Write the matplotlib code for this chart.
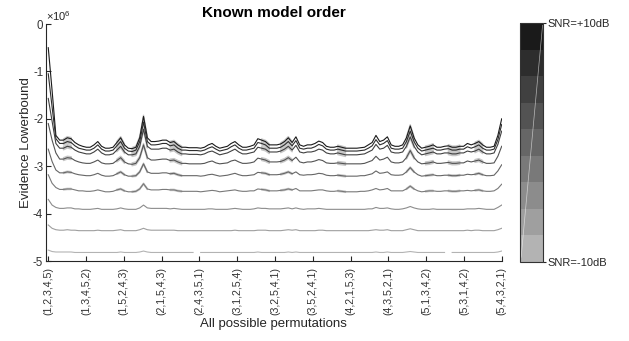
import numpy as np
import matplotlib
matplotlib.use("Agg")
import matplotlib.pyplot as plt
from matplotlib.colors import ListedColormap, BoundaryNorm
from matplotlib.cm import ScalarMappable

plt.rcParams['font.family'] = ['Liberation Sans', 'DejaVu Sans']
plt.rcParams['mathtext.fontset'] = 'custom'
plt.rcParams['mathtext.rm'] = 'Liberation Sans'
plt.rcParams['axes.unicode_minus'] = False

# tick labels: permutation shown at each of the 13 ticks
tick_labels = ['(1,2,3,4,5)', '(1,3,4,5,2)', '(1,5,2,4,3)', '(2,1,5,4,3)', '(2,4,3,5,1)',
               '(3,1,2,5,4)', '(3,2,5,4,1)', '(3,5,2,4,1)', '(4,2,1,5,3)', '(4,3,5,2,1)',
               '(5,1,3,4,2)', '(5,3,1,4,2)', '(5,4,3,2,1)']
n_perms = 120
snr_db = [10, 7.5, 5, 2.5, 0, -2.5, -5, -7.5, -10]

# evidence lower bound (x1e6) for each of the 120 permutations
elbo_p10 = [-0.50, -1.40, -2.35,
            -2.45, -2.45, -2.40, -2.42, -2.50, -2.55, -2.58, -2.60, -2.60, -2.55,
            -2.48, -2.58, -2.62, -2.62, -2.60, -2.50, -2.40, -2.55, -2.62, -2.63,
            -2.60, -2.40, -1.95, -2.40, -2.48, -2.48, -2.47, -2.45, -2.45, -2.50,
            -2.48, -2.55, -2.60, -2.60, -2.61, -2.61, -2.61, -2.62, -2.60, -2.55,
            -2.52, -2.58, -2.62, -2.60, -2.58, -2.52, -2.48, -2.55, -2.60, -2.60,
            -2.58, -2.55, -2.42, -2.45, -2.48, -2.55, -2.55, -2.55, -2.53, -2.48,
            -2.40, -2.50, -2.38, -2.55, -2.58, -2.55, -2.55, -2.52, -2.47, -2.50,
            -2.58, -2.60, -2.60, -2.58, -2.60, -2.62, -2.62, -2.62, -2.62, -2.61,
            -2.60, -2.55, -2.50, -2.35, -2.48, -2.45, -2.38, -2.55, -2.58, -2.58,
            -2.55, -2.40, -2.15, -2.40, -2.55, -2.62, -2.60, -2.58, -2.55, -2.60,
            -2.60, -2.58, -2.57, -2.60, -2.60, -2.58, -2.58, -2.52, -2.55, -2.52,
            -2.48, -2.55, -2.60, -2.60, -2.58, -2.35, -2.00]
elbo_p7_5 = [-1.05, -1.75, -2.42,
             -2.52, -2.52, -2.48, -2.50, -2.57, -2.62, -2.64, -2.66, -2.66, -2.62,
             -2.55, -2.64, -2.68, -2.68, -2.66, -2.57, -2.48, -2.62, -2.68, -2.69,
             -2.66, -2.48, -2.07, -2.48, -2.55, -2.55, -2.54, -2.52, -2.52, -2.57,
             -2.55, -2.62, -2.66, -2.66, -2.67, -2.67, -2.67, -2.68, -2.66, -2.62,
             -2.59, -2.64, -2.68, -2.66, -2.64, -2.59, -2.55, -2.62, -2.66, -2.66,
             -2.64, -2.62, -2.50, -2.52, -2.55, -2.62, -2.62, -2.62, -2.60, -2.55,
             -2.48, -2.57, -2.46, -2.62, -2.64, -2.62, -2.62, -2.59, -2.54, -2.57,
             -2.64, -2.66, -2.66, -2.64, -2.66, -2.68, -2.68, -2.68, -2.68, -2.67,
             -2.66, -2.62, -2.57, -2.44, -2.55, -2.52, -2.46, -2.62, -2.64, -2.64,
             -2.62, -2.48, -2.26, -2.48, -2.62, -2.68, -2.66, -2.64, -2.62, -2.66,
             -2.66, -2.64, -2.63, -2.66, -2.66, -2.64, -2.64, -2.59, -2.62, -2.59,
             -2.55, -2.62, -2.66, -2.66, -2.64, -2.44, -2.12]
elbo_p5 = [-1.57, -2.05, -2.52,
           -2.62, -2.62, -2.58, -2.60, -2.66, -2.70, -2.72, -2.74, -2.74, -2.70,
           -2.64, -2.72, -2.76, -2.76, -2.74, -2.66, -2.58, -2.70, -2.76, -2.76,
           -2.74, -2.58, -2.22, -2.58, -2.64, -2.64, -2.64, -2.62, -2.62, -2.66,
           -2.64, -2.70, -2.74, -2.74, -2.75, -2.75, -2.75, -2.76, -2.74, -2.70,
           -2.68, -2.72, -2.76, -2.74, -2.72, -2.68, -2.64, -2.70, -2.74, -2.74,
           -2.72, -2.70, -2.60, -2.62, -2.64, -2.70, -2.70, -2.70, -2.68, -2.64,
           -2.58, -2.66, -2.56, -2.70, -2.72, -2.70, -2.70, -2.68, -2.64, -2.66,
           -2.72, -2.74, -2.74, -2.72, -2.74, -2.76, -2.76, -2.76, -2.76, -2.75,
           -2.74, -2.70, -2.66, -2.54, -2.64, -2.62, -2.56, -2.70, -2.72, -2.72,
           -2.70, -2.58, -2.38, -2.58, -2.70, -2.76, -2.74, -2.72, -2.70, -2.74,
           -2.74, -2.72, -2.72, -2.74, -2.74, -2.72, -2.72, -2.68, -2.70, -2.68,
           -2.64, -2.70, -2.74, -2.74, -2.72, -2.54, -2.26]
elbo_p2_5 = [-2.10, -2.45, -2.72,
             -2.85, -2.85, -2.82, -2.83, -2.88, -2.91, -2.93, -2.94, -2.94, -2.91,
             -2.87, -2.93, -2.95, -2.95, -2.94, -2.88, -2.82, -2.91, -2.95, -2.96,
             -2.94, -2.82, -2.55, -2.82, -2.87, -2.87, -2.86, -2.85, -2.85, -2.88,
             -2.87, -2.91, -2.94, -2.94, -2.95, -2.95, -2.95, -2.95, -2.94, -2.91,
             -2.89, -2.93, -2.95, -2.94, -2.93, -2.89, -2.87, -2.91, -2.94, -2.94,
             -2.93, -2.91, -2.83, -2.85, -2.87, -2.91, -2.91, -2.91, -2.90, -2.87,
             -2.82, -2.88, -2.81, -2.91, -2.93, -2.91, -2.91, -2.89, -2.86, -2.88,
             -2.93, -2.94, -2.94, -2.93, -2.94, -2.95, -2.95, -2.95, -2.95, -2.95,
             -2.94, -2.91, -2.88, -2.79, -2.87, -2.85, -2.81, -2.91, -2.93, -2.93,
             -2.91, -2.82, -2.67, -2.82, -2.91, -2.95, -2.94, -2.93, -2.91, -2.94,
             -2.94, -2.93, -2.92, -2.94, -2.94, -2.93, -2.93, -2.89, -2.91, -2.89,
             -2.87, -2.91, -2.94, -2.94, -2.93, -2.79, -2.58]
elbo_0 = [-2.64, -2.90, -3.08,
          -3.14, -3.14, -3.12, -3.13, -3.16, -3.18, -3.19, -3.20, -3.20, -3.18,
          -3.15, -3.19, -3.21, -3.21, -3.20, -3.16, -3.12, -3.18, -3.21, -3.21,
          -3.20, -3.12, -2.95, -3.12, -3.15, -3.15, -3.15, -3.14, -3.14, -3.16,
          -3.15, -3.18, -3.20, -3.20, -3.20, -3.20, -3.20, -3.21, -3.20, -3.18,
          -3.17, -3.19, -3.21, -3.20, -3.19, -3.17, -3.15, -3.18, -3.20, -3.20,
          -3.19, -3.18, -3.13, -3.14, -3.15, -3.18, -3.18, -3.18, -3.17, -3.15,
          -3.12, -3.16, -3.12, -3.18, -3.19, -3.18, -3.18, -3.17, -3.15, -3.16,
          -3.19, -3.20, -3.20, -3.19, -3.20, -3.21, -3.21, -3.21, -3.21, -3.20,
          -3.20, -3.18, -3.16, -3.10, -3.15, -3.14, -3.12, -3.18, -3.19, -3.19,
          -3.18, -3.12, -3.03, -3.12, -3.18, -3.21, -3.20, -3.19, -3.18, -3.20,
          -3.20, -3.19, -3.19, -3.20, -3.20, -3.19, -3.19, -3.17, -3.18, -3.17,
          -3.15, -3.18, -3.20, -3.20, -3.19, -3.10, -2.97]
elbo_m2_5 = [-3.18, -3.36, -3.45,
             -3.49, -3.49, -3.48, -3.48, -3.50, -3.52, -3.52, -3.53, -3.53, -3.52,
             -3.50, -3.52, -3.54, -3.54, -3.53, -3.50, -3.48, -3.52, -3.54, -3.54,
             -3.53, -3.48, -3.37, -3.48, -3.50, -3.50, -3.50, -3.49, -3.49, -3.50,
             -3.50, -3.52, -3.53, -3.53, -3.53, -3.53, -3.53, -3.54, -3.53, -3.52,
             -3.51, -3.52, -3.54, -3.53, -3.52, -3.51, -3.50, -3.52, -3.53, -3.53,
             -3.52, -3.52, -3.48, -3.49, -3.50, -3.52, -3.52, -3.52, -3.51, -3.50,
             -3.48, -3.50, -3.47, -3.52, -3.52, -3.52, -3.52, -3.51, -3.50, -3.50,
             -3.52, -3.53, -3.53, -3.52, -3.53, -3.54, -3.54, -3.54, -3.54, -3.53,
             -3.53, -3.52, -3.50, -3.47, -3.50, -3.49, -3.47, -3.52, -3.52, -3.52,
             -3.52, -3.48, -3.42, -3.48, -3.52, -3.54, -3.53, -3.52, -3.52, -3.53,
             -3.53, -3.52, -3.52, -3.53, -3.53, -3.52, -3.52, -3.51, -3.52, -3.51,
             -3.50, -3.52, -3.53, -3.53, -3.52, -3.47, -3.38]
elbo_m5 = [-3.70, -3.82, -3.87,
           -3.89, -3.89, -3.88, -3.88, -3.90, -3.90, -3.91, -3.91, -3.91, -3.90,
           -3.89, -3.91, -3.91, -3.91, -3.91, -3.90, -3.88, -3.90, -3.91, -3.91,
           -3.91, -3.88, -3.82, -3.88, -3.89, -3.89, -3.89, -3.89, -3.89, -3.90,
           -3.89, -3.90, -3.91, -3.91, -3.91, -3.91, -3.91, -3.91, -3.91, -3.90,
           -3.90, -3.91, -3.91, -3.91, -3.91, -3.90, -3.89, -3.90, -3.91, -3.91,
           -3.91, -3.90, -3.88, -3.89, -3.89, -3.90, -3.90, -3.90, -3.90, -3.89,
           -3.88, -3.90, -3.88, -3.90, -3.91, -3.90, -3.90, -3.90, -3.89, -3.90,
           -3.91, -3.91, -3.91, -3.91, -3.91, -3.91, -3.91, -3.91, -3.91, -3.91,
           -3.91, -3.90, -3.90, -3.87, -3.89, -3.89, -3.88, -3.90, -3.91, -3.91,
           -3.90, -3.88, -3.85, -3.88, -3.90, -3.91, -3.91, -3.91, -3.90, -3.91,
           -3.91, -3.91, -3.91, -3.91, -3.91, -3.91, -3.91, -3.90, -3.90, -3.90,
           -3.89, -3.90, -3.91, -3.91, -3.91, -3.87, -3.82]
elbo_m7_5 = [-4.24, -4.31, -4.34,
             -4.35, -4.35, -4.34, -4.35, -4.35, -4.36, -4.36, -4.36, -4.36, -4.36,
             -4.35, -4.36, -4.36, -4.36, -4.36, -4.35, -4.34, -4.36, -4.36, -4.36,
             -4.36, -4.34, -4.31, -4.34, -4.35, -4.35, -4.35, -4.35, -4.35, -4.35,
             -4.35, -4.36, -4.36, -4.36, -4.36, -4.36, -4.36, -4.36, -4.36, -4.36,
             -4.36, -4.36, -4.36, -4.36, -4.36, -4.36, -4.35, -4.36, -4.36, -4.36,
             -4.36, -4.36, -4.35, -4.35, -4.35, -4.36, -4.36, -4.36, -4.36, -4.35,
             -4.34, -4.35, -4.34, -4.36, -4.36, -4.36, -4.36, -4.36, -4.35, -4.35,
             -4.36, -4.36, -4.36, -4.36, -4.36, -4.36, -4.36, -4.36, -4.36, -4.36,
             -4.36, -4.36, -4.35, -4.34, -4.35, -4.35, -4.34, -4.36, -4.36, -4.36,
             -4.36, -4.34, -4.32, -4.34, -4.36, -4.36, -4.36, -4.36, -4.36, -4.36,
             -4.36, -4.36, -4.36, -4.36, -4.36, -4.36, -4.36, -4.35, -4.36, -4.35,
             -4.35, -4.36, -4.36, -4.36, -4.36, -4.34, -4.31]
elbo_m10 = [-4.77, -4.80, -4.81,
            -4.81, -4.81, -4.81, -4.81, -4.82, -4.82, -4.82, -4.82, -4.82, -4.82,
            -4.82, -4.82, -4.82, -4.82, -4.82, -4.82, -4.81, -4.82, -4.82, -4.82,
            -4.82, -4.81, -4.79, -4.81, -4.82, -4.82, -4.82, -4.82, -4.82, -4.82,
            -4.82, -4.82, -4.82, -4.82, -4.82, -4.82, np.nan, -4.82, -4.82, -4.82,
            -4.82, -4.82, -4.82, -4.82, -4.82, -4.82, -4.82, -4.82, -4.82, -4.82,
            -4.82, -4.82, -4.81, -4.82, -4.82, -4.82, -4.82, -4.82, -4.82, -4.82,
            -4.81, -4.82, -4.81, -4.82, -4.82, -4.82, -4.82, -4.82, -4.82, -4.82,
            -4.82, -4.82, -4.82, -4.82, -4.82, -4.82, -4.82, -4.82, -4.82, -4.82,
            -4.82, -4.82, -4.82, -4.81, -4.82, -4.82, -4.81, -4.82, -4.82, -4.82,
            -4.82, -4.81, -4.80, -4.81, -4.82, -4.82, -4.82, -4.82, -4.82, -4.82,
            -4.82, -4.82, np.nan, -4.82, -4.82, -4.82, -4.82, -4.82, -4.82, -4.82,
            -4.82, -4.82, -4.82, -4.82, -4.82, -4.81, -4.79]
all_series = [elbo_p10, elbo_p7_5, elbo_p5, elbo_p2_5, elbo_0,
              elbo_m2_5, elbo_m5, elbo_m7_5, elbo_m10]

# permutation ranges where the run-to-run spread shows up, and its half width per SNR
spread_ranges = [(5, 7), (19, 21), (23, 27), (33, 36), (57, 59), (62, 65),
                 (77, 79), (95, 97), (100, 102), (106, 109), (113, 115)]
spread_width = [0.025, 0.03, 0.035, 0.03, 0.015, 0.012, 0.0, 0.0, 0.0]

grays = [0.10, 0.175, 0.25, 0.325, 0.40, 0.475, 0.55, 0.625, 0.70]

fig = plt.figure(figsize=(6.29, 3.41), dpi=100)
ax = fig.add_axes([0.0731, 0.2346, 0.7245, 0.695])

x = np.arange(1, n_perms + 1)
mask = np.zeros(n_perms, dtype=bool)
for a, b in spread_ranges:
    mask[(x >= a) & (x <= b)] = True

for vals, g, w in zip(all_series, grays, spread_width):
    y = np.array(vals)
    if w > 0:
        ax.fill_between(x, y - w, y + w, where=mask, color='0.78',
                        linewidth=1.0, edgecolor='0.78', zorder=1)
    ax.plot(x, y, color=str(g), lw=0.8, zorder=2)

ax.set_xlim(0.4, n_perms)
ax.set_ylim(-5, 0)
ax.set_xticks(np.linspace(1, n_perms, len(tick_labels)))
ax.set_xticklabels(tick_labels, rotation=90, fontsize=7.7)
ax.set_yticks([0, -1, -2, -3, -4, -5])
ax.set_yticklabels(['0', '-1', '-2', '-3', '-4', '-5'], fontsize=8.3)
ax.tick_params(direction='in', length=3.5, width=0.8, colors='0.15', labelcolor='0.2')
ax.tick_params(axis='x', pad=4.5)
ax.tick_params(axis='y', pad=2)
for s in ['top', 'right']:
    ax.spines[s].set_visible(False)
for s in ['left', 'bottom']:
    ax.spines[s].set_color('0.15')
    ax.spines[s].set_linewidth(0.8)

ax.text(0.0, 1.005, r'$\times10^{6}$', transform=ax.transAxes,
        ha='left', va='bottom', fontsize=8, color='0.15')
ax.set_title('Known model order', fontsize=11, fontweight='bold', pad=5)
ax.set_ylabel('Evidence Lowerbound', fontsize=9.5, labelpad=1, color='0.15')
ax.set_xlabel('All possible permutations', fontsize=9.5, labelpad=2, color='0.15')

# discrete grey colour bar for SNR
cax = fig.add_axes([0.8267, 0.2317, 0.0366, 0.701])
cmap = ListedColormap([str(g) for g in grays[::-1]])
norm = BoundaryNorm(np.linspace(-10, 10, len(grays) + 1), cmap.N)
cb = fig.colorbar(ScalarMappable(norm=norm, cmap=cmap), cax=cax, ticks=[-10, 10])
cb.minorticks_off()
cb.ax.set_yticklabels(['SNR=-10dB', 'SNR=+10dB'], fontsize=8)
cb.ax.tick_params(length=2, width=0.8, pad=1, colors='0.15')
cb.outline.set_linewidth(0.8)
cb.outline.set_edgecolor('0.2')
cax.plot([0.05, 0.98], [0.02, 0.99], transform=cax.transAxes,
         color='white', lw=0.5, alpha=0.6)

fig.savefig('out.png', dpi=100)
